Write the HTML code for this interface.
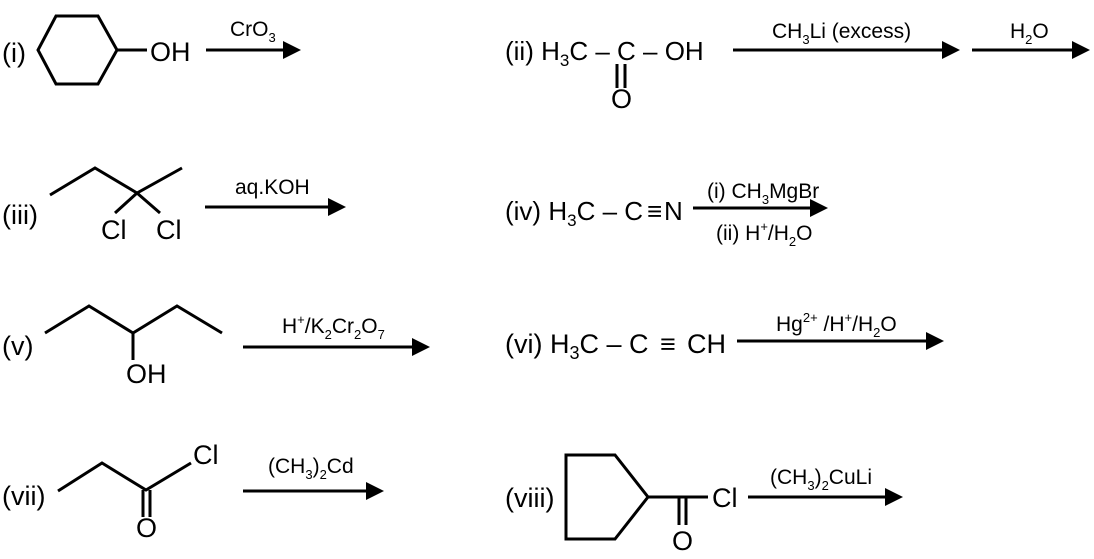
<!DOCTYPE html>
<html><head><meta charset="utf-8"><style>
html,body{margin:0;padding:0;background:#fff;}
svg{display:block;}
text{font-family:"Liberation Sans",Arial,sans-serif;fill:#000;}
.m{font-size:27px;}
.r{font-size:26px;}
.l{font-size:21px;}
</style></head><body>
<svg width="1094" height="559" viewBox="0 0 1094 559" xmlns="http://www.w3.org/2000/svg">
<defs><marker id="a" markerWidth="6" markerHeight="6" refX="0" refY="3" orient="auto" markerUnits="strokeWidth"><path d="M0,0 L6,3 L0,6z" fill="#000"/></marker></defs>
<g stroke="#000" stroke-width="3" fill="none" stroke-linejoin="miter">
<polygon points="56,16 98,16 117,50 98,84 56,84 38,50"/>
<line x1="117" y1="50" x2="147" y2="50"/>
<polyline points="50,195 95,168 137,193 182,168"/>
<line x1="137" y1="193" x2="115" y2="213"/>
<line x1="137" y1="193" x2="160" y2="213"/>
<polyline points="45,333 89,306 133,333 177,306 222,333"/>
<line x1="133" y1="333" x2="133" y2="360"/>
<polyline points="58,491 102,463 146,490 191,463"/>
<line x1="143" y1="490" x2="143" y2="517"/>
<line x1="150" y1="490" x2="150" y2="517"/>
<line x1="617" y1="64" x2="617" y2="88"/>
<line x1="625" y1="64" x2="625" y2="88"/>
<polygon points="566,455 615,455 648,497 615,539 566,539"/>
<line x1="648" y1="497" x2="708" y2="497"/>
<line x1="679" y1="497" x2="679" y2="525"/>
<line x1="686" y1="497" x2="686" y2="525"/>
</g>
<g stroke="#000" stroke-width="3">
<line x1="206" y1="50" x2="283" y2="50" marker-end="url(#a)"/>
<line x1="205" y1="207" x2="328" y2="207" marker-end="url(#a)"/>
<line x1="243" y1="347" x2="412" y2="347" marker-end="url(#a)"/>
<line x1="243" y1="491" x2="366" y2="491" marker-end="url(#a)"/>
<line x1="733" y1="50" x2="942" y2="50" marker-end="url(#a)"/>
<line x1="972" y1="50" x2="1072" y2="50" marker-end="url(#a)"/>
<line x1="693" y1="208" x2="810" y2="208" marker-end="url(#a)"/>
<line x1="737" y1="341" x2="926" y2="341" marker-end="url(#a)"/>
<line x1="748" y1="497" x2="885" y2="497" marker-end="url(#a)"/>
</g>
<text class="m" x="2" y="62">(i)</text>
<text class="m" x="150" y="61">OH</text>
<text class="l" x="230" y="36">CrO<tspan font-size="13" dy="6">3</tspan></text>
<text class="m" x="2" y="224">(iii)</text>
<text class="m" x="101" y="239">Cl</text>
<text class="m" x="156" y="239">Cl</text>
<text class="l" x="235" y="194">aq.KOH</text>
<text class="m" x="2" y="355">(v)</text>
<text class="m" x="126" y="383">OH</text>
<text class="l" x="282" y="333">H<tspan font-size="13" dy="-9">+</tspan><tspan dy="9">/K</tspan><tspan font-size="13" dy="6">2</tspan><tspan dy="-6">Cr</tspan><tspan font-size="13" dy="6">2</tspan><tspan dy="-6">O</tspan><tspan font-size="13" dy="6">7</tspan></text>
<text class="m" x="2" y="505">(vii)</text>
<text class="m" x="136" y="537">O</text>
<text class="m" x="193" y="464">Cl</text>
<text class="l" x="268" y="473">(CH<tspan font-size="13" dy="6">3</tspan><tspan dy="-6">)</tspan><tspan font-size="13" dy="6">2</tspan><tspan dy="-6">Cd</tspan></text>
<text class="r" x="505" y="60">(ii) H<tspan font-size="17" dy="6">3</tspan><tspan dy="-6">C – C – OH</tspan></text>
<text class="m" x="611" y="108">O</text>
<text class="l" x="772" y="38">CH<tspan font-size="13" dy="6">3</tspan><tspan dy="-6">Li (excess)</tspan></text>
<text class="l" x="1010" y="38">H<tspan font-size="13" dy="6">2</tspan><tspan dy="-6">O</tspan></text>
<text class="r" x="505" y="220">(iv) H<tspan font-size="17" dy="6">3</tspan><tspan dy="-6">C – C</tspan></text>
<text class="r" x="647" y="220">≡</text>
<text class="r" x="664" y="220">N</text>
<text class="l" x="707" y="198">(i) CH<tspan font-size="13" dy="6">3</tspan><tspan dy="-6">MgBr</tspan></text>
<text class="l" x="716" y="240">(ii) H<tspan font-size="13" dy="-9">+</tspan><tspan dy="9">/H</tspan><tspan font-size="13" dy="6">2</tspan><tspan dy="-6">O</tspan></text>
<text class="m" x="505" y="353">(vi) H<tspan font-size="18" dy="6">3</tspan><tspan dy="-6">C – C</tspan></text>
<text class="m" x="660" y="353">≡</text>
<text class="m" x="687" y="353">CH</text>
<text class="l" x="776" y="331">Hg<tspan font-size="13" dy="-9">2+</tspan><tspan dy="9"> /H</tspan><tspan font-size="13" dy="-9">+</tspan><tspan dy="9">/H</tspan><tspan font-size="13" dy="6">2</tspan><tspan dy="-6">O</tspan></text>
<text class="m" x="505" y="507">(viii)</text>
<text class="m" x="672" y="550">O</text>
<text class="m" x="712" y="507">Cl</text>
<text class="l" x="770" y="484">(CH<tspan font-size="13" dy="6">3</tspan><tspan dy="-6">)</tspan><tspan font-size="13" dy="6">2</tspan><tspan dy="-6">CuLi</tspan></text>
</svg>
</body></html>
